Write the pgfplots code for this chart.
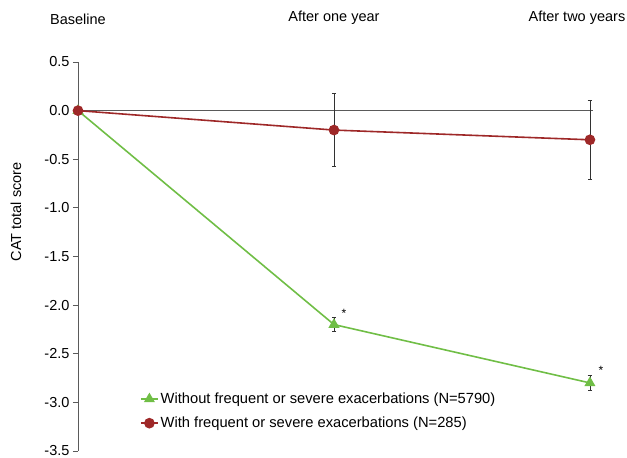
\documentclass[border=0pt]{standalone}
\usepackage{fontspec}
\setmainfont{Liberation Sans}
\usepackage{pgfplots}
\pgfplotsset{compat=1.18}
\definecolor{cgreen}{RGB}{112,190,70}
\definecolor{cred}{RGB}{158,40,40}
\definecolor{axgray}{RGB}{90,90,90}
\definecolor{errgray}{RGB}{50,50,50}
\begin{document}
\begin{tikzpicture}[font=\fontsize{14.5}{17}\selectfont]
\begin{axis}[
  name=ax,
  scale only axis,
  width=515pt, height=389pt,
  xmin=0, xmax=2.012, ymin=-3.5, ymax=0.5,
  axis y line*=left,
  axis x line*=top,
  x axis line style={draw=none},
  y axis line style={draw=axgray, line width=0.9pt},
  xtick={0,1},
  xticklabels={Baseline, After one year},
  extra x ticks={2},
  extra x tick labels={After two years},
  extra x tick style={xticklabel style={xshift=-13pt}},
  xtick style={draw=none},
  xticklabel style={yshift=29pt},
  ytick={-3.5,-3,-2.5,-2,-1.5,-1,-0.5,0,0.5},
  ytick style={draw=axgray, line width=0.9pt},
  tick align=outside,
  major tick length=5pt,
  yticklabel style={/pgf/number format/.cd, fixed, fixed zerofill, precision=1},
  /pgf/number format/assume math mode=true,
  ylabel={CAT total score},
  ylabel style={at={(rel axis cs:0,0.615)}, anchor=center, yshift=62pt},
  clip=false,
  legend style={at={(axis cs:0.23,-2.86)}, anchor=north west, draw=none, fill=none,
    font=\fontsize{14.7}{17}\selectfont, row sep=8pt},
  legend cell align=left,
]
\addplot[axgray, line width=0.9pt, forget plot] coordinates {(0,0) (2.012,0)};
\addplot[cgreen, line width=1.6pt, mark=triangle*, mark size=4.8pt,
  error bars/.cd, y dir=both, y explicit,
  error bar style={errgray, line width=0.7pt},
  error mark options={errgray, rotate=90, mark size=2.2pt, line width=0.7pt}]
  coordinates {(0,0) +- (0,0) (1,-2.2) +- (0,0.07) (2,-2.8) +- (0,0.08)};
\addlegendentry{Without frequent or severe exacerbations (N=5790)}
\addplot[cred, line width=1.6pt, mark=*, mark size=4.5pt,
  error bars/.cd, y dir=both, y explicit,
  error bar style={errgray, line width=0.7pt},
  error mark options={errgray, rotate=90, mark size=2.2pt, line width=0.7pt}]
  coordinates {(0,0) +- (0,0) (1,-0.2) +- (0,0.375) (2,-0.3) +- (0,0.41)};
\addlegendentry{With frequent or severe exacerbations (N=285)}
\node[font=\fontsize{12}{14}\selectfont] at (axis cs:1,-2.2) [xshift=10pt, yshift=11pt] {*};
\node[font=\fontsize{12}{14}\selectfont] at (axis cs:2,-2.8) [xshift=11pt, yshift=13pt] {*};
\end{axis}
\pgfresetboundingbox
\path ([shift={(-78pt,-7pt)}]ax.south west) rectangle ([shift={(34pt,62pt)}]ax.north east);
\end{tikzpicture}
\end{document}
